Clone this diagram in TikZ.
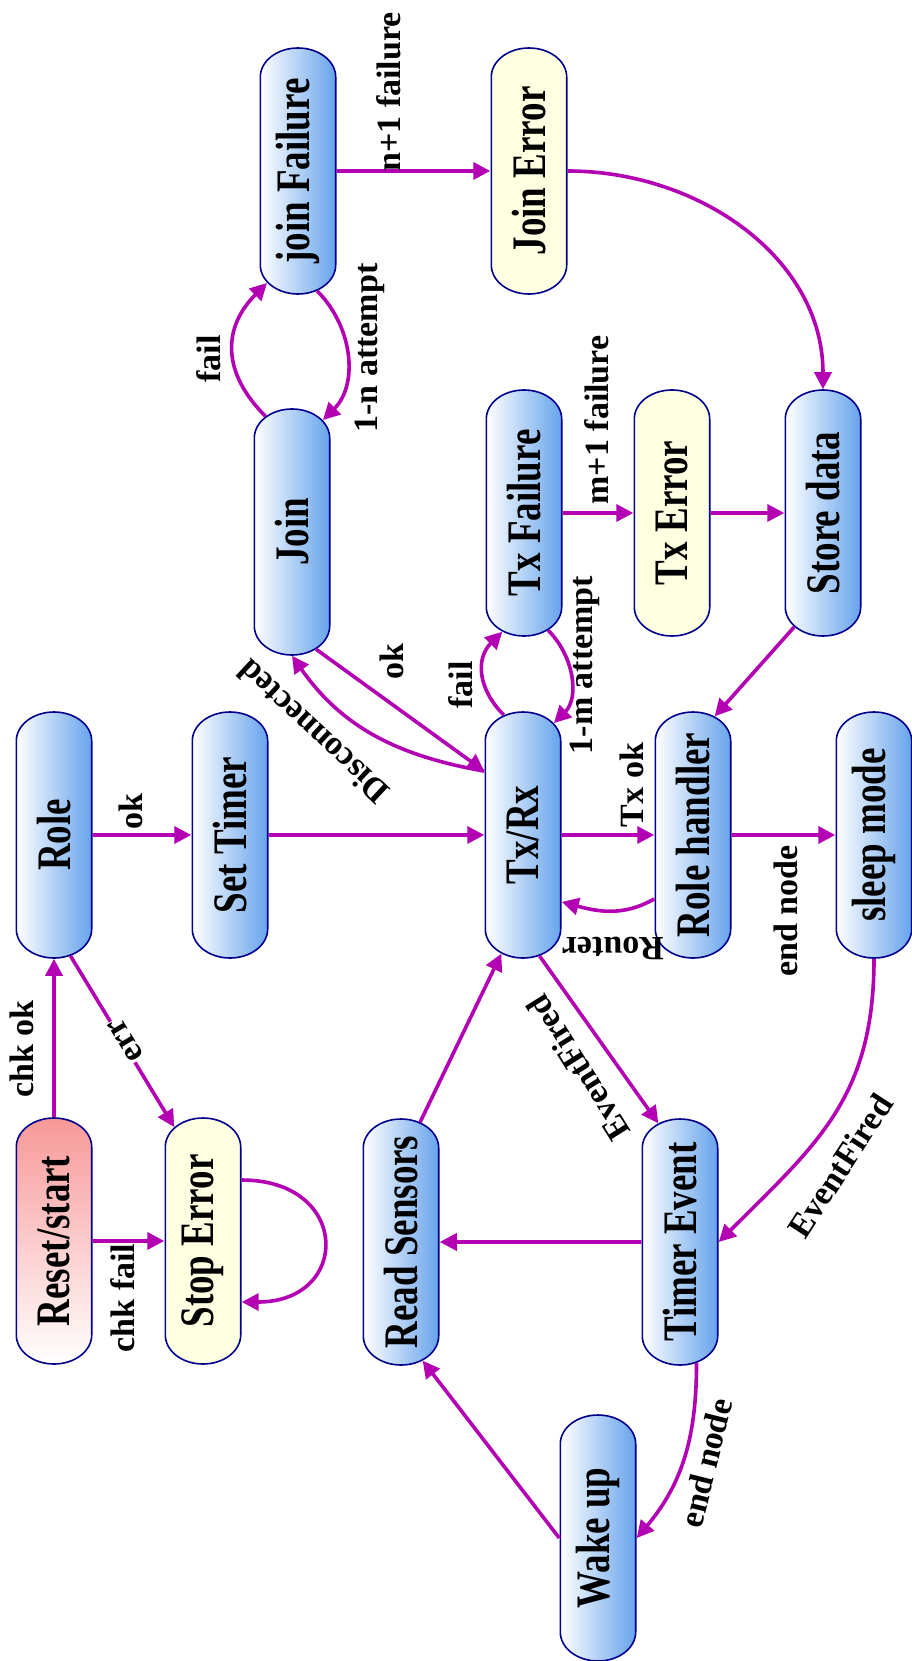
\documentclass[tikz,border=0pt]{standalone}
\usepackage{fontspec}
\setmainfont{Liberation Serif}
\usetikzlibrary{shapes.misc,arrows.meta}

\definecolor{edgecol}{RGB}{178,0,178}
\definecolor{rimcol}{RGB}{0,0,140}
\definecolor{bluecol}{RGB}{102,163,236}
\definecolor{pinkcol}{RGB}{248,152,152}
\definecolor{errfill}{RGB}{255,255,226}

\tikzset{
  state/.style={rounded rectangle, draw=rimcol, line width=1.6pt,
    minimum width=246pt, minimum height=58pt, inner sep=0pt,
    xscale=1.3, rotate=90, font=\fontsize{37}{40}\selectfont\bfseries},
  blue state/.style={state, left color=white, right color=bluecol},
  pink state/.style={state, top color=pinkcol, bottom color=white},
  yellow state/.style={state, fill=errfill},
  arr/.style={draw=edgecol, line width=3.6pt, -{Triangle[length=17pt,width=17pt]}},
  lbl/.style={font=\fontsize{34}{36}\selectfont\bfseries, inner sep=1pt}
}

\begin{document}
\begin{tikzpicture}[x=1pt, y=-1pt]
  \fill[white] (0,0) rectangle (911,1661);
  \useasboundingbox (0,0) rectangle (911,1661);

  % states
  \node[blue state] (joinfail) at (298,171) {join Failure};
  \node[yellow state] (joinerr) at (529,171) {Join Error};
  \node[blue state] (join) at (292,532) {Join};
  \node[blue state] (txfail) at (524,513) {Tx Failure};
  \node[yellow state] (txerr) at (672,513) {Tx Error};
  \node[blue state] (store) at (823,513) {Store data};
  \node[blue state] (role) at (54,835) {Role};
  \node[blue state] (settimer) at (230,835) {Set Timer};
  \node[blue state] (txrx) at (523,835) {Tx/Rx};
  \node[blue state] (handler) at (693,835) {Role handler};
  \node[blue state] (sleep) at (874,835) {sleep mode};
  \node[pink state] (reset) at (54,1241) {Reset/start};
  \node[yellow state] (stop) at (203,1241) {Stop Error};
  \node[blue state] (sensors) at (401,1242) {Read Sensors};
  \node[blue state] (timer) at (680,1242) {Timer Event};
  \node[blue state] (wake) at (598,1538) {Wake up};

  % start-up
  \draw[arr] (reset) -- (role);
  \draw[arr] (reset) -- (stop);
  \draw[arr] (role.186) -- (stop.11);
  \draw[arr] ([yshift=61pt]stop.south) to[out=0, in=0, looseness=2.3] ([yshift=-61pt]stop.south);
  \draw[arr] (role) -- (settimer);
  \draw[arr] (settimer) -- (txrx);

  % joining
  \draw[arr] (join.189) -- (txrx.25);
  \draw[arr] (txrx.25) to[out=170, in=-55] (join.180);
  \draw[arr] (join.10) to[out=135, in=-135, looseness=1.2] (joinfail.168);
  \draw[arr] (joinfail.187) to[out=-45, in=45] (join.348);
  \draw[arr] (joinfail) -- (joinerr);
  \draw[arr] (joinerr.south) to[out=0, in=90] (store.east);

  % transmitting
  \draw[arr] (txrx.7) to[out=135, in=-135, looseness=1.15] (txfail.172);
  \draw[arr] (txfail.189) to[out=-45, in=45] (txrx.348);
  \draw[arr] (txfail) -- (txerr);
  \draw[arr] (txerr) -- (store);
  \draw[arr] (store.169) -- (handler.352);
  \draw[arr] (txrx) -- (handler);
  \draw[arr] (handler.155) to[out=210, in=-15] (txrx.204);
  \draw[arr] (handler) -- (sleep);

  % timer and sensors
  \draw[arr] (txrx.186) -- (timer.8);
  \draw[arr] (sleep.west) to[out=-90, in=45, looseness=1.1] (timer.south);
  \draw[arr] (timer) -- (sensors);
  \draw[arr] (sensors.353) -- (txrx.172);
  \draw[arr] (timer.186) to[out=-90, in=50] (wake.south);
  \draw[arr] (wake.north) -- (sensors.188);

  % labels
  \node[lbl, rotate=90] (chkok) at (22,1049) {chk ok};
  \node[lbl, rotate=121, fill=white] (err) at (126,1040) {err};
  \node[lbl, rotate=90] (chkfail) at (123,1298) {chk fail};
  \node[lbl, rotate=90] (okset) at (131,812) {ok};
  \node[lbl, rotate=90] (txok) at (632,785) {Tx ok};
  \node[lbl, rotate=90] (endsleep) at (786,911) {end node};
  \node[lbl, rotate=180] (router) at (613,948) {Router};
  \node[lbl, rotate=90] (okjoin) at (392,662) {ok};
  \node[lbl, rotate=137] (disc) at (313,732) {Disconnected};
  \node[lbl, rotate=90] (failtx) at (461,685) {fail};
  \node[lbl, rotate=90] (attm) at (585,665) {1-m attempt};
  \node[lbl, rotate=90] (failjoin) at (209,359) {fail};
  \node[lbl, rotate=90] (attn) at (370,348) {1-n attempt};
  \node[lbl, rotate=90] (nfail) at (389,92) {n+1 failure};
  \node[lbl, rotate=90] (mfail) at (597,420) {m+1 failure};
  \node[lbl, rotate=122] (firetx) at (578,1068) {EventFired};
  \node[lbl, rotate=57] (firesleep) at (840,1166) {EventFired};
  \node[lbl, rotate=76] (endwake) at (706,1463) {end node};
\end{tikzpicture}
\end{document}
